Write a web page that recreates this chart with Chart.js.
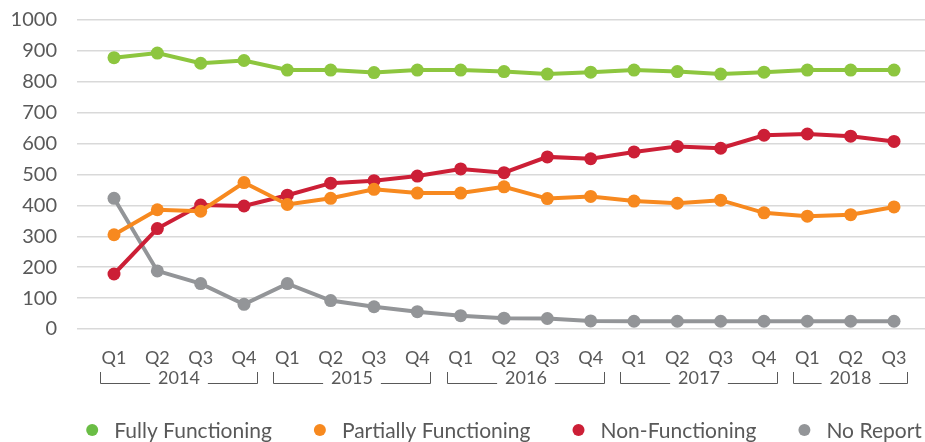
<!DOCTYPE html>
<html><head><meta charset="utf-8">
<script src="https://cdn.jsdelivr.net/npm/chart.js@4/dist/chart.umd.min.js"></script>
<style>html,body{margin:0;padding:0;background:#fff}#wrap{width:925px;height:442px;position:relative}</style>
</head><body><div id="wrap"><canvas id="c" width="925" height="442"></canvas></div>
<script>
const quarters = ['Q1','Q2','Q3','Q4','Q1','Q2','Q3','Q4','Q1','Q2','Q3','Q4','Q1','Q2','Q3','Q4','Q1','Q2','Q3'];
const years = ['2014','2015','2016','2017','2018'];
const quartersPerYear = [4,4,4,4,3];
const fullyFunctioning   = [878,893,860,869,838,838,830,838,838,833,825,831,838,833,825,831,838,838,838];
const partiallyFunctioning = [305,386,381,474,403,423,452,440,440,460,422,429,414,407,417,376,365,370,395];
const nonFunctioning     = [178,325,401,398,433,472,480,495,518,506,557,551,573,591,585,627,631,624,607];
const noReport           = [423,188,147,80,147,92,72,56,43,35,34,26,25,25,25,25,25,25,25];
const seriesNames = ['Fully Functioning','Partially Functioning','Non-Functioning','No Report'];
const seriesColors = ['#8dc63f','#f7891f','#cc1f36','#939598'];
const legendColors = ['#6abd45','#f7891f','#cc1f36','#939598'];

const FONT = 'Lato, "Liberation Sans", sans-serif';
const TXT = '#595959';

function ds(i, vals){
  return {
    label: seriesNames[i],
    data: vals.map((v,k)=>({x:k,y:v})),
    borderColor: seriesColors[i],
    backgroundColor: seriesColors[i],
    borderWidth: 4,
    pointRadius: 6.5,
    pointBorderWidth: 0,
    pointBackgroundColor: seriesColors[i],
    tension: 0
  };
}

const yearPlugin = {
  id: 'yearBrackets',
  afterDraw(chart){
    const ctx = chart.ctx, xs = chart.scales.x;
    ctx.save();
    ctx.font = '18px ' + FONT;
    ctx.fillStyle = TXT;
    ctx.strokeStyle = TXT;
    ctx.lineWidth = 1;
    ctx.textAlign = 'center';
    ctx.textBaseline = 'middle';
    let start = 0;
    years.forEach((yr, j) => {
      const n = quartersPerYear[j];
      const x1 = Math.round(xs.getPixelForValue(start) - 14) + 0.5;
      const x2 = Math.round(xs.getPixelForValue(start + n - 1) + 13) + 0.5;
      const cx = (x1 + x2) / 2;
      const w = ctx.measureText(yr).width;
      const yl = 383.5, yt = 372;
      ctx.fillText(yr, cx, 378);
      ctx.beginPath();
      ctx.moveTo(x1, yt); ctx.lineTo(x1, yl); ctx.lineTo(cx - w/2 - 8, yl);
      ctx.moveTo(cx + w/2 + 8, yl); ctx.lineTo(x2, yl); ctx.lineTo(x2, yt);
      ctx.stroke();
      start += n;
    });
    ctx.restore();
  }
};

const legendPlugin = {
  id: 'customLegend',
  afterDraw(chart){
    const ctx = chart.ctx, area = chart.chartArea;
    ctx.save();
    ctx.font = '21px ' + FONT;
    ctx.textBaseline = 'middle';
    ctx.textAlign = 'left';
    const r = 6, textGap = 22, itemGap = 48;
    const widths = seriesNames.map(t => textGap - r + ctx.measureText(t).width + r);
    const total = widths.reduce((a,b)=>a+b,0) + itemGap*(widths.length-1);
    let x = (area.left + area.right)/2 - total/2;
    const y = 430;
    seriesNames.forEach((t,i)=>{
      ctx.fillStyle = legendColors[i];
      ctx.beginPath(); ctx.arc(x + r, y, r, 0, Math.PI*2); ctx.fill();
      ctx.fillStyle = TXT;
      ctx.fillText(t, x + r + textGap, y + 1);
      x += widths[i] + itemGap;
    });
    ctx.restore();
  }
};

new Chart(document.getElementById('c'), {
  type: 'line',
  data: { datasets: [ds(0, fullyFunctioning), ds(1, partiallyFunctioning), ds(2, nonFunctioning), ds(3, noReport)] },
  options: {
    responsive: false,
    animation: false,
    layout: { autoPadding: false, padding: { top: 20, bottom: 50, left: 0, right: 0 } },
    plugins: { legend: { display: false }, tooltip: { enabled: false } },
    scales: {
      x: {
        type: 'linear',
        min: -0.854, max: 18.715,
        grid: { display: false, drawTicks: false },
        border: { display: false },
        afterBuildTicks(scale){ scale.ticks = quarters.map((q,i)=>({value:i})); },
        afterFit(scale){ scale.height = 63; scale.paddingLeft = 0; scale.paddingRight = 0; },
        ticks: {
          autoSkip: false, maxRotation: 0, padding: 18,
          color: TXT, font: { family: FONT, size: 18 },
          callback: (v) => quarters[v]
        }
      },
      y: {
        min: 0, max: 1000,
        afterFit(scale){ scale.width = 77; scale.paddingTop = 0; scale.paddingBottom = 0; },
        grid: { color: '#d9d9d9', lineWidth: 1.5, drawTicks: false },
        border: { display: false },
        ticks: { stepSize: 100, padding: 20, color: TXT, font: { family: FONT, size: 20 }, callback: (v) => String(v) }
      }
    }
  },
  plugins: [yearPlugin, legendPlugin]
});
</script></body></html>
